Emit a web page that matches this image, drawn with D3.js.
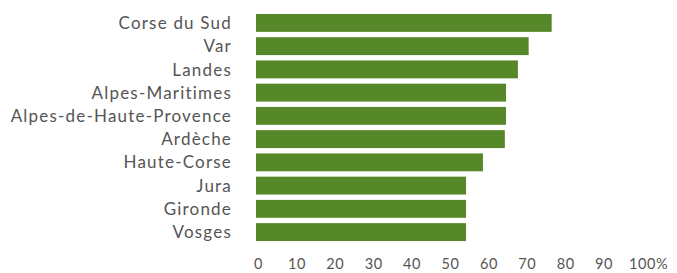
<!DOCTYPE html>
<html>
<head>
<meta charset="utf-8">
<script src="https://cdnjs.cloudflare.com/ajax/libs/d3/7.8.5/d3.min.js"></script>
<style>
	body { margin: 0; background: #fff; }
	svg text { font-family: Lato, "Open Sans", sans-serif; }
</style>
</head>
<body>
<svg id="chart" width="677" height="273"></svg>
<script>
// departements, sorted as in the chart
var departements = ['Corse du Sud', 'Var', 'Landes', 'Alpes-Maritimes', 'Alpes-de-Haute-Provence',
	'Ardèche', 'Haute-Corse', 'Jura', 'Gironde', 'Vosges'];
var valeurs = [77, 71, 68.2, 65.1, 65.1, 64.8, 59.1, 54.7, 54.7, 54.7];
var ticks = [0, 10, 20, 30, 40, 50, 60, 70, 80, 90, 100];

var svg = d3.select('#chart');

var x = d3.scaleLinear().domain([0, 100]).range([256, 640]);
var y = d3.scaleBand()
	.domain(departements)
	.range([11.3, 243.7])
	.paddingInner(0.23)
	.paddingOuter(0.115);

svg.append('g')
	.selectAll('rect')
	.data(valeurs)
	.enter().append('rect')
		.attr('x', x(0))
		.attr('y', function(d, i){ return y(departements[i]); })
		.attr('width', function(d){ return x(d) - x(0); })
		.attr('height', y.bandwidth())
		.attr('fill', '#568729');

// category labels
var yAxis = svg.append('g')
	.attr('transform', 'translate(232,0)')
	.call(d3.axisLeft(y).tickSize(0).tickPadding(0));
yAxis.select('.domain').remove();
yAxis.selectAll('text')
	.attr('fill', '#555')
	.style('font-size', '17px')
	.style('letter-spacing', '1.2px')
	.attr('dy', '0.36em');

// value axis
var xAxis = svg.append('g')
	.attr('transform', 'translate(2,258)')
	.call(d3.axisBottom(x).tickValues(ticks).tickSize(0).tickPadding(0)
		.tickFormat(function(d){ return d == 100 ? '100%' : d; }));
xAxis.select('.domain').remove();
xAxis.selectAll('text')
	.attr('fill', '#555')
	.style('font-size', '14.5px')
	.style('letter-spacing', '0.6px')
	.attr('dy', '0.78em');

// keep "100" centred on its tick, "%" trailing
xAxis.selectAll('text').filter(function(d){ return d == 100; })
	.each(function(){
		var t = d3.select(this);
		var full = this.getComputedTextLength();
		t.text('100');
		var w = this.getComputedTextLength();
		t.text('100%').attr('dx', (full - w) / 2);
	});
</script>
</body>
</html>
